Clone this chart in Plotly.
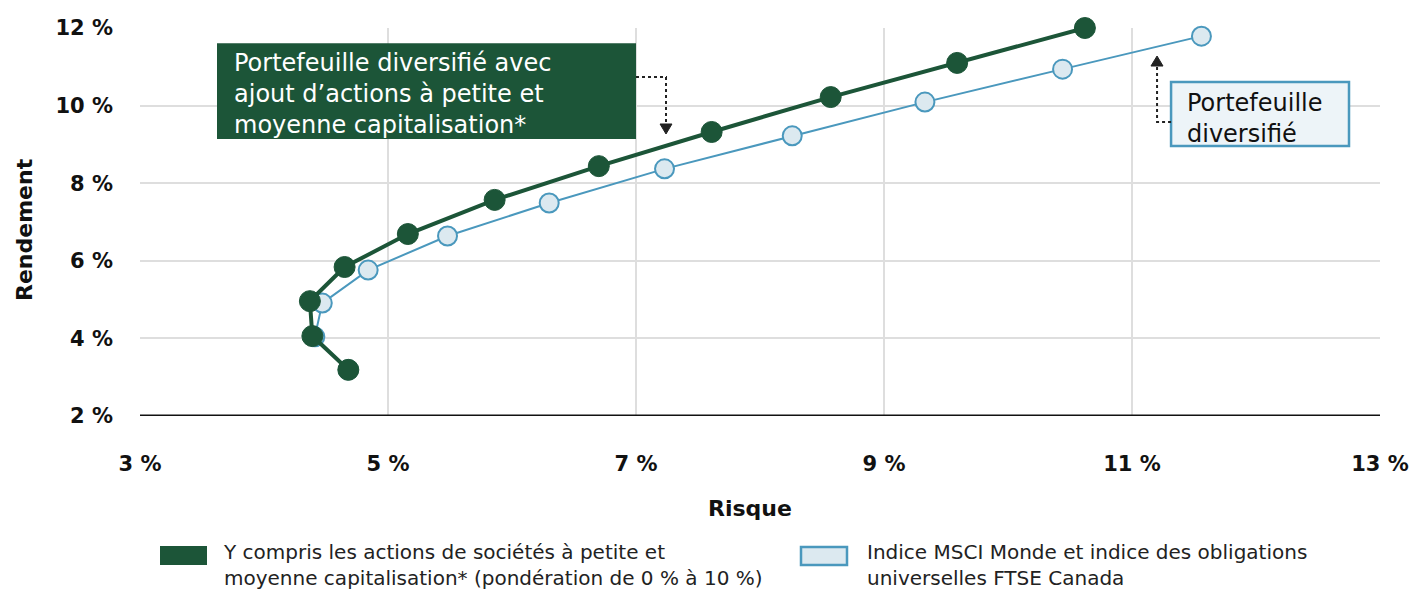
import plotly.graph_objects as go

# Data
green_risk = [4.68, 4.39, 4.37, 4.65, 5.16, 5.86, 6.70, 7.61, 8.57, 9.59, 10.62]
green_ret = [3.19, 4.06, 4.96, 5.84, 6.69, 7.57, 8.44, 9.32, 10.22, 11.10, 12.00]
blue_risk = [4.68, 4.41, 4.47, 4.84, 5.48, 6.30, 7.23, 8.26, 9.33, 10.44, 11.56]
blue_ret = [3.19, 4.04, 4.91, 5.76, 6.64, 7.49, 8.37, 9.22, 10.09, 10.94, 11.79]
x_ticks = [3, 5, 7, 9, 11, 13]
x_labels = ["3 %", "5 %", "7 %", "9 %", "11 %", "13 %"]
y_ticks = [2, 4, 6, 8, 10, 12]
y_labels = ["2 %", "4 %", "6 %", "8 %", "10 %", "12 %"]
legend_green = "Y compris les actions de sociétés à petite et<br>moyenne capitalisation* (pondération de 0 % à 10 %)"
legend_blue = "Indice MSCI Monde et indice des obligations<br>universelles FTSE Canada"

GREEN = "#1c5538"
BLUE = "#4a98bd"
BLUE_FILL = "#dce9f0"
FONT = "DejaVu Sans"

fig = go.Figure()
fig.add_trace(go.Scatter(
    x=blue_risk, y=blue_ret, mode="lines+markers",
    line=dict(color=BLUE, width=2),
    marker=dict(size=19, color=BLUE_FILL, line=dict(color=BLUE, width=2)),
    showlegend=False, cliponaxis=False))
fig.add_trace(go.Scatter(
    x=green_risk, y=green_ret, mode="lines+markers",
    line=dict(color=GREEN, width=4),
    marker=dict(size=21, color=GREEN, line=dict(color=GREEN, width=1)),
    showlegend=False, cliponaxis=False))

shapes = []
# baseline
shapes.append(dict(type="line", xref="x", yref="y", x0=3, x1=13, y0=2, y1=2,
                   line=dict(color="#111", width=3), layer="above"))
# green annotation box
shapes.append(dict(type="rect", xref="x", yref="y", x0=3.621, x1=7.0, y0=9.139, y1=11.61,
                   fillcolor=GREEN, line=dict(width=0), layer="above"))
shapes.append(dict(type="path", xref="x", yref="y",
                   path="M 7.0,10.737 L 7.242,10.737 L 7.242,9.50",
                   line=dict(color="#222", width=2, dash="dot"), layer="above"))
shapes.append(dict(type="path", xref="x", yref="y",
                   path="M 7.194,9.526 L 7.29,9.526 L 7.242,9.268 Z",
                   fillcolor="#222", line=dict(color="#222", width=1), layer="above"))
# blue annotation box
shapes.append(dict(type="rect", xref="x", yref="y", x0=11.315, x1=12.75, y0=8.959, y1=10.608,
                   fillcolor="#edf4f8", line=dict(color=BLUE, width=2.5), layer="above"))
shapes.append(dict(type="path", xref="x", yref="y",
                   path="M 11.315,9.577 L 11.202,9.577 L 11.202,11.05",
                   line=dict(color="#222", width=2, dash="dot"), layer="above"))
shapes.append(dict(type="path", xref="x", yref="y",
                   path="M 11.153,11.02 L 11.25,11.02 L 11.202,11.278 Z",
                   fillcolor="#222", line=dict(color="#222", width=1), layer="above"))
# legend swatches (paper coords)
W, H = 1414, 591
L, T, R, B = 140, 28, 34, 175
pw, ph = W - L - R, H - T - B
def px(xp):
    return (xp - L) / pw
def py(yp):
    return (H - B - yp) / ph
shapes.append(dict(type="rect", xref="paper", yref="paper", x0=px(160), x1=px(207), y0=py(565), y1=py(546),
                   fillcolor=GREEN, line=dict(width=0)))
shapes.append(dict(type="rect", xref="paper", yref="paper", x0=px(801), x1=px(847), y0=py(565), y1=py(547),
                   fillcolor=BLUE_FILL, line=dict(color=BLUE, width=2.5)))

annotations = [
    dict(xref="x", yref="y", x=3.742, y=10.31, xanchor="left", yanchor="middle",
         text="Portefeuille diversifié avec<br>ajout d’actions à petite et<br>moyenne capitalisation*",
         showarrow=False, align="left", font=dict(family=FONT, size=24, color="white")),
    dict(xref="x", yref="y", x=11.43, y=9.66, xanchor="left", yanchor="middle",
         text="Portefeuille<br>diversifié",
         showarrow=False, align="left", font=dict(family=FONT, size=24, color="#111")),
    dict(xref="paper", yref="paper", x=px(25), y=py(230), text="Rendement", textangle=-90,
         showarrow=False, xanchor="center", yanchor="middle",
         font=dict(family=FONT, size=22, color="#111", weight="bold")),
    dict(xref="paper", yref="paper", x=px(750), y=py(508), text="Risque",
         showarrow=False, xanchor="center", yanchor="middle",
         font=dict(family=FONT, size=22, color="#111", weight="bold")),
    dict(xref="paper", yref="paper", x=px(221), y=py(565), text=legend_green,
         showarrow=False, xanchor="left", yanchor="middle", align="left",
         font=dict(family=FONT, size=20, color="#222")),
    dict(xref="paper", yref="paper", x=px(865), y=py(565), text=legend_blue,
         showarrow=False, xanchor="left", yanchor="middle", align="left",
         font=dict(family=FONT, size=20, color="#222")),
]

fig.update_layout(
    width=W, height=H,
    margin=dict(l=L, r=R, t=T, b=B, autoexpand=False),
    plot_bgcolor="white", paper_bgcolor="white",
    shapes=shapes, annotations=annotations,
    font=dict(family=FONT, color="#111"),
    xaxis=dict(range=[3, 13], tickvals=x_ticks, ticktext=x_labels, showgrid=True,
               gridcolor="#dedede", gridwidth=2, zeroline=False, showline=False,
               ticks="", ticklabelstandoff=33,
               tickfont=dict(family=FONT, size=21, color="#111", weight="bold")),
    yaxis=dict(range=[2, 12], tickvals=y_ticks, ticktext=y_labels, showgrid=True,
               gridcolor="#dedede", gridwidth=2, zeroline=False, showline=False,
               ticks="", ticklabelstandoff=26,
               tickfont=dict(family=FONT, size=21, color="#111", weight="bold")),
)

fig.write_html("out.html", config={"displayModeBar": False},
               post_script="document.body.style.margin='0';document.body.style.overflow='hidden';")
